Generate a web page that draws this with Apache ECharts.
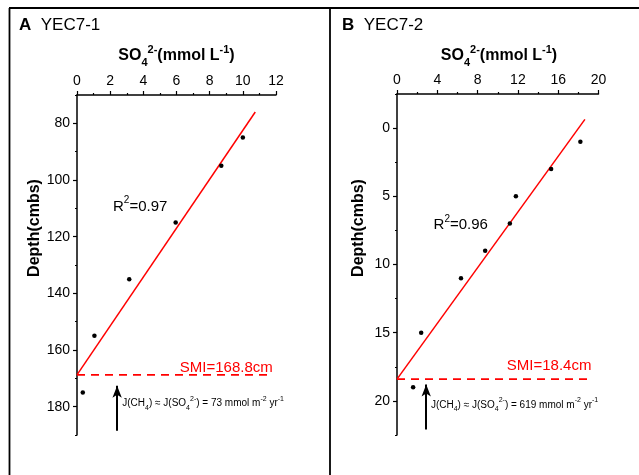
<!DOCTYPE html>
<html>
<head>
<meta charset="utf-8">
<script src="https://cdn.jsdelivr.net/npm/echarts@6/dist/echarts.min.js"></script>
<style>
  html, body { margin: 0; padding: 0; background: #fff; }
  #chart { width: 639px; height: 475px; }
</style>
</head>
<body>
<div id="chart"></div>
<script>
// Core YEC7-1: sulfate profile (mmol/L) against depth (cmbs)
const so4A = [10.0, 8.7, 5.95, 3.15, 1.05, 0.35];
const depthA = [85, 95, 115, 135, 155, 175];
// linear fit end points and sulfate-methane interface
const fitSo4A = [0, 10.75];
const fitDepthA = [168.8, 76.0];
const smiA = 168.8;
const smiSpanA = [0, 11.6];
const fluxA = 73;
const arrowA = { so4: 2.42, from: 188.5, to: 172.6 };

// Core YEC7-2
const so4B = [18.2, 15.3, 11.8, 11.2, 8.75, 6.35, 2.4, 1.6];
const depthB = [1, 3, 5, 7, 9, 11, 15, 19];
const fitSo4B = [0, 18.65];
const fitDepthB = [18.4, -0.64];
const smiB = 18.4;
const smiSpanB = [0, 19.25];
const fluxB = 619;
const arrowB = { so4: 2.9, from: 22.1, to: 18.8 };

// axis ticks
const xTicksA = { min: 0, max: 12, interval: 2 };
const xTicksB = { min: 0, max: 20, interval: 4 };
const yMajorA = [80, 100, 120, 140, 160, 180];
const yMajorB = [0, 5, 10, 15, 20];
const yRangeA = { min: 70, max: 190, minor: 10 };
const yRangeB = { min: -2.5, max: 22.5, minor: 2.5 };

const r2A = '0.97';
const r2B = '0.96';
// positions (in data units) where the text annotations start
const r2PosA = [2.17, 109.4];
const r2PosB = [3.63, 7.12];
const smiLabelPosA = [6.2, 166.2];
const smiLabelPosB = [10.9, 17.43];
const fluxPosA = [2.73, 178.8];
const fluxPosB = [3.37, 20.3];

const FONT = "'Liberation Sans', Arial, sans-serif";
const RED = '#ff0000';

const smallRich = {
  t: { fontSize: 10, fontFamily: FONT, color: '#000', lineHeight: 16, verticalAlign: 'middle' },
  sub: { fontSize: 7, fontFamily: FONT, color: '#000', lineHeight: 16, verticalAlign: 'bottom' },
  sup: { fontSize: 7, fontFamily: FONT, color: '#000', lineHeight: 16, verticalAlign: 'top' }
};
const r2Rich = {
  t: { fontSize: 15, fontFamily: FONT, color: '#000', lineHeight: 22, verticalAlign: 'middle' },
  sup: { fontSize: 10, fontFamily: FONT, color: '#000', lineHeight: 22, verticalAlign: 'top' }
};

function fluxText(v) {
  return '{t|J(CH}{sub|4}{t|) ≈ J(SO}{sub|4}{sup|2-}{t|) = ' + v + ' mmol m}{sup|-2}{t| yr}{sup|-1}';
}

function xAxisFor(idx, t) {
  return {
    type: 'value', gridIndex: idx, position: 'top',
    min: t.min, max: t.max, interval: t.interval,
    axisLine: { show: true, onZero: false, lineStyle: { color: '#000', width: 1.5 } },
    axisTick: { show: true, inside: false, length: 4, lineStyle: { color: '#000', width: 1.2 } },
    minorTick: { show: true, splitNumber: 2, length: 2, lineStyle: { color: '#000', width: 1.2 } },
    axisLabel: { fontSize: 14, fontFamily: FONT, color: '#000', margin: 7 },
    splitLine: { show: false }
  };
}

function yAxesFor(idx, r, majors) {
  return [{
    type: 'value', gridIndex: idx, inverse: true, position: 'left',
    min: r.min, max: r.max, interval: r.minor,
    axisLine: { show: true, onZero: false, lineStyle: { color: '#000', width: 1.5 } },
    axisTick: { show: true, inside: false, length: 2, lineStyle: { color: '#000', width: 1.2 } },
    axisLabel: {
      fontSize: 14, fontFamily: FONT, color: '#000', margin: 7,
      formatter: function (v) { return majors.indexOf(v) >= 0 ? String(v) : ''; }
    },
    splitLine: { show: false }
  }, {
    type: 'value', gridIndex: idx, inverse: true, position: 'left',
    min: r.min, max: r.max, interval: r.minor,
    axisLine: { show: false },
    axisTick: { show: true, inside: false, length: 4, customValues: majors, lineStyle: { color: '#000', width: 1.2 } },
    axisLabel: { show: false },
    splitLine: { show: false }
  }];
}

function seriesFor(idx, so4, depth, fitX, fitY, smi, smiSpan, r2, r2Pos, smiPos, flux, fluxPos, arrow) {
  const yIdx = idx * 2;
  const pts = so4.map((v, i) => [v, depth[i]]);
  const common = { xAxisIndex: idx, yAxisIndex: yIdx, silent: true, animation: false };
  return [
    Object.assign({
      type: 'line', data: fitX.map((v, i) => [v, fitY[i]]), symbol: 'none',
      lineStyle: { color: RED, width: 1.5 }, z: 3
    }, common),
    Object.assign({
      type: 'line', data: smiSpan.map(v => [v, smi]), symbol: 'none',
      lineStyle: { color: RED, width: 1.8, type: [8, 6] }, z: 3,
      markLine: {
        silent: true, animation: false,
        symbol: ['none', 'arrow'], symbolSize: [7, 12],
        lineStyle: { color: '#000', width: 2, type: 'solid' },
        label: { show: false },
        data: [[{ coord: [arrow.so4, arrow.from] }, { coord: [arrow.so4, arrow.to] }]]
      }
    }, common),
    Object.assign({
      type: 'scatter', data: pts, symbol: 'circle', symbolSize: 4.5,
      itemStyle: { color: '#000', opacity: 1 }, z: 4
    }, common),
    Object.assign({
      type: 'scatter', symbolSize: 0, itemStyle: { color: '#000', opacity: 1 }, z: 5,
      data: [
        { value: r2Pos, label: { show: true, position: 'right', distance: 0, formatter: '{t|R}{sup|2}{t|=' + r2 + '}', rich: r2Rich } },
        { value: smiPos, label: { show: true, position: 'right', distance: 0, formatter: 'SMI=' + smi + 'cm', fontSize: 15, fontFamily: FONT, color: RED } },
        { value: fluxPos, label: { show: true, position: 'right', distance: 0, formatter: fluxText(flux), rich: smallRich } }
      ]
    }, common)
  ];
}

function axisTitle(x, y) {
  return {
    type: 'text', x: x, y: y, silent: true,
    style: {
      text: '{b|SO}{bs|4}{bp|2-}{b|(mmol L}{bp|-1}{b|)}',
      align: 'center', verticalAlign: 'middle',
      rich: {
        b: { fontSize: 16, fontWeight: 'bold', fontFamily: FONT, fill: '#000', lineHeight: 24, verticalAlign: 'middle' },
        bs: { fontSize: 11, fontWeight: 'bold', fontFamily: FONT, fill: '#000', lineHeight: 24, verticalAlign: 'bottom' },
        bp: { fontSize: 11, fontWeight: 'bold', fontFamily: FONT, fill: '#000', lineHeight: 24, verticalAlign: 'top' }
      }
    }
  };
}

function depthTitle(x, y) {
  return {
    type: 'text', x: x, y: y, rotation: Math.PI / 2, silent: true,
    style: { text: 'Depth(cmbs)', fontSize: 16, fontWeight: 'bold', fontFamily: FONT, fill: '#000', align: 'center', verticalAlign: 'middle' }
  };
}

function panelTitle(x, letter, name) {
  return {
    type: 'text', x: x, y: 25, silent: true,
    style: {
      text: '{l|' + letter + '}{n|  ' + name + '}', verticalAlign: 'middle',
      rich: {
        l: { fontSize: 17, fontWeight: 'bold', fontFamily: FONT, fill: '#000' },
        n: { fontSize: 17, fontFamily: FONT, fill: '#000' }
      }
    }
  };
}

const chart = echarts.init(document.getElementById('chart'), null, { renderer: 'canvas' });
const yA = yAxesFor(0, yRangeA, yMajorA);
const yB = yAxesFor(1, yRangeB, yMajorB);

chart.setOption({
  animation: false,
  backgroundColor: '#fff',
  grid: [
    { left: 77, top: 95, width: 199, height: 340 },
    { left: 397, top: 94, width: 201.5, height: 341 }
  ],
  xAxis: [xAxisFor(0, xTicksA), xAxisFor(1, xTicksB)],
  yAxis: [yA[0], yA[1], yB[0], yB[1]],
  series: [].concat(
    seriesFor(0, so4A, depthA, fitSo4A, fitDepthA, smiA, smiSpanA, r2A, r2PosA, smiLabelPosA, fluxA, fluxPosA, arrowA),
    seriesFor(1, so4B, depthB, fitSo4B, fitDepthB, smiB, smiSpanB, r2B, r2PosB, smiLabelPosB, fluxB, fluxPosB, arrowB)
  ),
  graphic: [
    // panel frame
    { type: 'line', silent: true, shape: { x1: 9, y1: 8, x2: 639, y2: 8 }, style: { stroke: '#000', lineWidth: 1.8 } },
    { type: 'line', silent: true, shape: { x1: 9.5, y1: 8, x2: 9.5, y2: 475 }, style: { stroke: '#000', lineWidth: 1.8 } },
    { type: 'line', silent: true, shape: { x1: 330, y1: 8, x2: 330, y2: 475 }, style: { stroke: '#000', lineWidth: 1.8 } },
    panelTitle(19, 'A', 'YEC7-1'),
    panelTitle(342, 'B', 'YEC7-2'),
    axisTitle(176.5, 56),
    axisTitle(499, 56),
    depthTitle(35, 228),
    depthTitle(359, 228)
  ]
});
</script>
</body>
</html>
